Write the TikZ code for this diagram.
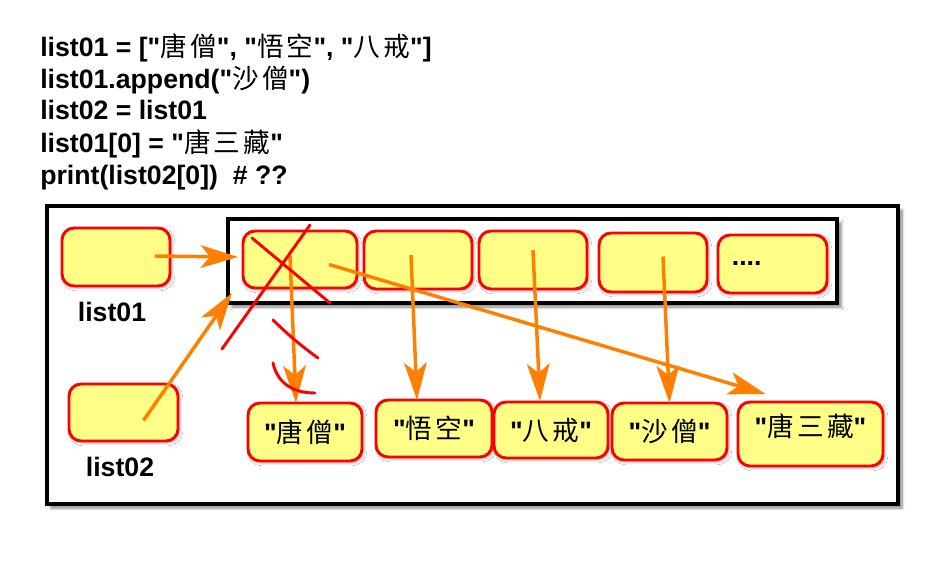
\documentclass[tikz,border=0pt]{standalone}
\usepackage{fontspec}
\setmainfont{Liberation Sans}
\newfontfamily\cjk[Scale=1.0,LetterSpace=12]{Noto Sans CJK SC}
\newcommand{\zh}[1]{{\cjk\mdseries #1}}
\newcommand{\dq}{\textquotedbl}
\usetikzlibrary{arrows.meta,calc,shadows.blur}

\definecolor{cellyellow}{RGB}{255,255,136}
\definecolor{arrorange}{RGB}{255,128,0}

\tikzset{
  bigbox/.style={draw=black, line width=3.5pt, fill=white, inner sep=0pt, outer sep=0pt,
    blur shadow={shadow xshift=3pt, shadow yshift=-3pt, shadow blur steps=6, shadow opacity=50}},
  cell/.style={draw=red, line width=2.2pt, fill=cellyellow, rounded corners=9pt,
    inner sep=0pt, outer sep=0pt, minimum width=81pt, minimum height=43.5pt,
    font=\bfseries\fontsize{20}{24}\selectfont,
    blur shadow={shadow xshift=1.5pt, shadow yshift=-1.5pt, shadow blur steps=4, shadow opacity=30}},
  arw/.style={draw=arrorange, line width=2.6pt, -{Stealth[length=28pt,width=17pt,inset=7pt]}},
  redmark/.style={draw=red, line width=2.2pt, line cap=round},
  vname/.style={font=\bfseries\fontsize{20}{24}\selectfont},
}

\begin{document}
\begin{tikzpicture}[x=0.75pt,y=-0.75pt]
\useasboundingbox (0,0) rectangle (944,563);

% code
\node[vname, anchor=base west, align=left, inner sep=0pt] (code) at (40,184)
  {list01 = [\dq\zh{唐僧}\dq, \dq\zh{悟空}\dq, \dq\zh{八戒}\dq]\\
   list01.append(\dq\zh{沙僧}\dq)\\
   list02 = list01\\
   list01[0] = \dq\zh{唐三藏}\dq\\
   print(list02[0])\ \ \# ??};

% frames
\node[bigbox, minimum width=638.25pt, minimum height=223.5pt] (mem) at (472.5,355) {};
\node[bigbox, line width=3pt, minimum width=456.75pt, minimum height=63pt] (arr) at (532.5,261) {};

% variables
\node[cell] (l1) at (116,257) {};
\node[cell, minimum width=81.75pt, minimum height=42.75pt] (l2) at (123.5,412.5) {};
\node[vname] (n1) at (112,312) {list01};
\node[vname] (n2) at (120,467) {list02};

% list cells
\node[cell, minimum width=85.5pt, minimum height=42.75pt] (c1) at (300,259.5) {};
\node[cell] (c2) at (418,260) {};
\node[cell] (c3) at (533,260) {};
\node[cell, minimum height=44.25pt] (c4) at (653,262.5) {};
\node[cell, minimum width=81.75pt, text width=61pt, align=left] (c5) at (772.5,264) {....};

% strings
\node[cell, minimum width=85.5pt] (s1) at (305,432) {\dq\zh{唐僧}\dq};
\node[cell, minimum width=87pt, minimum height=42.75pt] (s2) at (434,428.5) {\dq\zh{悟空}\dq};
\node[cell, minimum width=85.5pt, minimum height=42pt] (s3) at (551,430) {\dq\zh{八戒}\dq};
\node[cell, minimum width=86.25pt, minimum height=42.75pt] (s4) at (669.5,431.5) {\dq\zh{沙僧}\dq};
\node[cell, minimum width=108.75pt, minimum height=48pt, text depth=13pt] (s5) at (810.5,434) {\dq\zh{唐三藏}\dq};

% references
\draw[arw] ($(l1)+(39,-1)$) -- ($(arr.west)+(10,-4)$);
\draw[arw] ($(l2)+(20,8)$) -- ($(arr.south west)+(4,-10)$);
\draw[arw] ($(c1)+(-10,-4)$) -- ($(s1.north)+(-9,0)$);
\draw[arw] ($(c2)+(-7,-5)$) -- ($(s2.north)+(-17,0)$);
\draw[arw] ($(c3)+(0,-10)$) -- ($(s3.north)+(-11,-1)$);
\draw[arw] ($(c4)+(10,-6)$) -- ($(s4.north)+(0,0)$);
\draw[arw] ($(c1)+(29,5)$) -- ($(s5.north)+(-45,-8)$);

% crossed out
\draw[redmark] (252,238) -- (330,303);
\draw[redmark] (310,225) -- (222,349);
\draw[redmark] (273,320) to[bend right=4] (318,358);
\draw[redmark] (273,363) .. controls (278,385) and (295,393) .. (315,393);
\end{tikzpicture}
\end{document}
